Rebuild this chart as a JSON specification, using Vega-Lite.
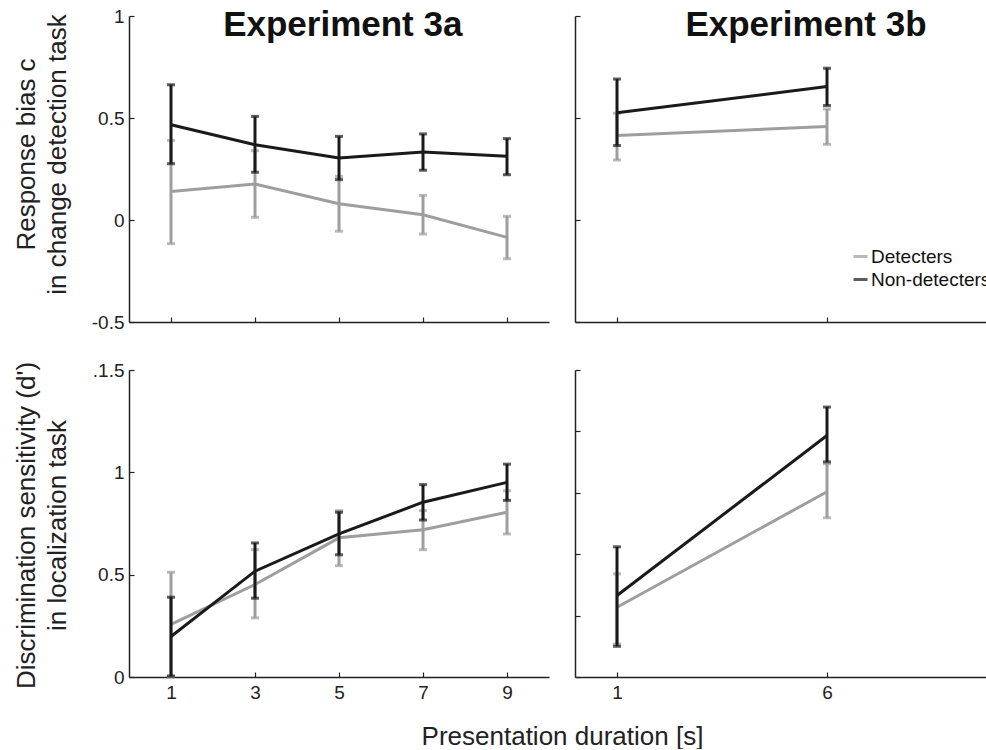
{
  "$schema": "https://vega.github.io/schema/vega-lite/v6.json",
  "padding": {"left": 12, "top": 7, "right": 0, "bottom": 0},
  "background": "white",
  "bounds": "flush",
  "columns": 2,
  "spacing": {"row": 48, "column": 26},
  "resolve": {"legend": {"color": "independent"}},
  "datasets": {
    "pts": [
      {"panel": "TL", "group": "Detecters", "x": 1, "y": 0.14, "lo": -0.116, "hi": 0.39},
      {"panel": "TL", "group": "Detecters", "x": 3, "y": 0.176, "lo": 0.013, "hi": 0.34},
      {"panel": "TL", "group": "Detecters", "x": 5, "y": 0.08, "lo": -0.055, "hi": 0.214},
      {"panel": "TL", "group": "Detecters", "x": 7, "y": 0.026, "lo": -0.069, "hi": 0.121},
      {"panel": "TL", "group": "Detecters", "x": 9, "y": -0.085, "lo": -0.19, "hi": 0.018},
      {"panel": "TL", "group": "Non-detecters", "x": 1, "y": 0.467, "lo": 0.276, "hi": 0.663},
      {"panel": "TL", "group": "Non-detecters", "x": 3, "y": 0.369, "lo": 0.234, "hi": 0.508},
      {"panel": "TL", "group": "Non-detecters", "x": 5, "y": 0.304, "lo": 0.198, "hi": 0.41},
      {"panel": "TL", "group": "Non-detecters", "x": 7, "y": 0.333, "lo": 0.244, "hi": 0.422},
      {"panel": "TL", "group": "Non-detecters", "x": 9, "y": 0.312, "lo": 0.222, "hi": 0.399},
      {"panel": "TR", "group": "Detecters", "x": 1, "y": 0.414, "lo": 0.294, "hi": 0.523},
      {"panel": "TR", "group": "Detecters", "x": 6, "y": 0.458, "lo": 0.371, "hi": 0.544},
      {"panel": "TR", "group": "Non-detecters", "x": 1, "y": 0.526, "lo": 0.365, "hi": 0.691},
      {"panel": "TR", "group": "Non-detecters", "x": 6, "y": 0.654, "lo": 0.561, "hi": 0.744},
      {"panel": "BL", "group": "Detecters", "x": 1, "y": 0.257, "lo": 0.0, "hi": 0.512},
      {"panel": "BL", "group": "Detecters", "x": 3, "y": 0.452, "lo": 0.289, "hi": 0.622},
      {"panel": "BL", "group": "Detecters", "x": 5, "y": 0.68, "lo": 0.544, "hi": 0.813},
      {"panel": "BL", "group": "Detecters", "x": 7, "y": 0.72, "lo": 0.622, "hi": 0.813},
      {"panel": "BL", "group": "Detecters", "x": 9, "y": 0.805, "lo": 0.699, "hi": 0.91},
      {"panel": "BL", "group": "Non-detecters", "x": 1, "y": 0.198, "lo": 0.005, "hi": 0.39},
      {"panel": "BL", "group": "Non-detecters", "x": 3, "y": 0.517, "lo": 0.385, "hi": 0.655},
      {"panel": "BL", "group": "Non-detecters", "x": 5, "y": 0.699, "lo": 0.597, "hi": 0.805},
      {"panel": "BL", "group": "Non-detecters", "x": 7, "y": 0.854, "lo": 0.767, "hi": 0.94},
      {"panel": "BL", "group": "Non-detecters", "x": 9, "y": 0.951, "lo": 0.863, "hi": 1.04},
      {"panel": "BR", "group": "Detecters", "x": 1, "y": 0.341, "lo": 0.161, "hi": 0.504},
      {"panel": "BR", "group": "Detecters", "x": 6, "y": 0.905, "lo": 0.778, "hi": 1.042},
      {"panel": "BR", "group": "Non-detecters", "x": 1, "y": 0.398, "lo": 0.15, "hi": 0.636},
      {"panel": "BR", "group": "Non-detecters", "x": 6, "y": 1.18, "lo": 1.051, "hi": 1.319}
    ]
  },
  "concat": [
    {
      "width": 420, "height": 306,
      "data": {"name": "pts"},
      "encoding": {
        "x": {"field": "x", "type": "quantitative", "scale": {"domain": [0, 10], "nice": false},
              "axis": {"values": [1, 3, 5, 7, 9], "labels": false, "title": null}},
        "color": {"field": "group", "type": "nominal",
                  "scale": {"domain": ["Detecters", "Non-detecters"], "range": ["#9e9e9e", "#1a1a1a"]}, "legend": null}
      },
      "layer": [
        {"transform": [{"filter": "datum.panel == 'TL' && datum.group == 'Detecters'"}],
         "layer": [
          {"mark": {"type": "line", "strokeWidth": 3},
           "encoding": {"y": {"field": "y", "type": "quantitative", "scale": {"domain": [-0.5, 1], "nice": false},
             "axis": {"values": [-0.5, 0, 0.5, 1], "labelExpr": "datum.value == -0.5 ? '-0.5' : format(datum.value, '~g')", "labelPadding": 10,
                      "title": ["Response bias c", "in change detection task"], "titleX": -90, "titleY": 138, "titleLineHeight": 31}}}},
          {"mark": {"type": "rule", "strokeWidth": 3}, "encoding": {"y": {"field": "lo", "type": "quantitative"}, "y2": {"field": "hi"}}},
          {"mark": {"type": "tick", "orient": "horizontal", "size": 8, "thickness": 3}, "encoding": {"y": {"field": "lo", "type": "quantitative"}}},
          {"mark": {"type": "tick", "orient": "horizontal", "size": 8, "thickness": 3}, "encoding": {"y": {"field": "hi", "type": "quantitative"}}},
          {"transform": [{"filter": "datum.x == 1"}],
           "mark": {"type": "text", "fontSize": 35, "fontWeight": "bold", "font": "Liberation Sans", "align": "center", "baseline": "alphabetic"},
           "encoding": {"text": {"value": "Experiment 3a"}, "x": {"datum": 5.09, "type": "quantitative"}, "y": {"datum": 0.902, "type": "quantitative"}, "color": {"value": "#111111"}}}
         ]},
        {"transform": [{"filter": "datum.panel == 'TL' && datum.group == 'Non-detecters'"}],
         "layer": [
          {"mark": {"type": "line", "strokeWidth": 3}, "encoding": {"y": {"field": "y", "type": "quantitative"}}},
          {"mark": {"type": "rule", "strokeWidth": 3}, "encoding": {"y": {"field": "lo", "type": "quantitative"}, "y2": {"field": "hi"}}},
          {"mark": {"type": "tick", "orient": "horizontal", "size": 8, "thickness": 3}, "encoding": {"y": {"field": "lo", "type": "quantitative"}}},
          {"mark": {"type": "tick", "orient": "horizontal", "size": 8, "thickness": 3}, "encoding": {"y": {"field": "hi", "type": "quantitative"}}}
         ]}
      ]
    },
    {
      "width": 420, "height": 306,
      "data": {"name": "pts"},
      "encoding": {
        "x": {"field": "x", "type": "quantitative", "scale": {"domain": [0, 10], "nice": false},
              "axis": {"values": [1, 6], "labels": false, "title": null}},
        "color": {"field": "group", "type": "nominal", "title": null,
                  "scale": {"domain": ["Detecters", "Non-detecters"], "range": ["#9e9e9e", "#1a1a1a"]},
                  "legend": {"orient": "none", "legendX": 276, "legendY": 231, "symbolType": "stroke", "symbolSize": 196, "symbolStrokeWidth": 3,
                             "labelFontSize": 19, "labelFont": "Liberation Sans", "labelColor": "#111111", "labelOffset": 1, "rowPadding": 3, "padding": 0, "symbolOffset": 0}}
      },
      "layer": [
        {"transform": [{"filter": "datum.panel == 'TR' && datum.group == 'Detecters'"}],
         "layer": [
          {"mark": {"type": "line", "strokeWidth": 3},
           "encoding": {"y": {"field": "y", "type": "quantitative", "scale": {"domain": [-0.5, 1], "nice": false},
             "axis": {"values": [-0.5, 0, 0.5, 1], "labels": false, "title": null}}}},
          {"mark": {"type": "rule", "strokeWidth": 3}, "encoding": {"y": {"field": "lo", "type": "quantitative"}, "y2": {"field": "hi"}}},
          {"mark": {"type": "tick", "orient": "horizontal", "size": 8, "thickness": 3}, "encoding": {"y": {"field": "lo", "type": "quantitative"}}},
          {"mark": {"type": "tick", "orient": "horizontal", "size": 8, "thickness": 3}, "encoding": {"y": {"field": "hi", "type": "quantitative"}}},
          {"transform": [{"filter": "datum.x == 1"}],
           "mark": {"type": "text", "fontSize": 35, "fontWeight": "bold", "font": "Liberation Sans", "align": "center", "baseline": "alphabetic"},
           "encoding": {"text": {"value": "Experiment 3b"}, "x": {"datum": 5.5, "type": "quantitative"}, "y": {"datum": 0.902, "type": "quantitative"}, "color": {"value": "#111111"}}}
         ]},
        {"transform": [{"filter": "datum.panel == 'TR' && datum.group == 'Non-detecters'"}],
         "layer": [
          {"mark": {"type": "line", "strokeWidth": 3}, "encoding": {"y": {"field": "y", "type": "quantitative"}}},
          {"mark": {"type": "rule", "strokeWidth": 3}, "encoding": {"y": {"field": "lo", "type": "quantitative"}, "y2": {"field": "hi"}}},
          {"mark": {"type": "tick", "orient": "horizontal", "size": 8, "thickness": 3}, "encoding": {"y": {"field": "lo", "type": "quantitative"}}},
          {"mark": {"type": "tick", "orient": "horizontal", "size": 8, "thickness": 3}, "encoding": {"y": {"field": "hi", "type": "quantitative"}}}
         ]}
      ]
    },
    {
      "width": 420, "height": 307,
      "data": {"name": "pts"},
      "encoding": {
        "x": {"field": "x", "type": "quantitative", "scale": {"domain": [0, 10], "nice": false},
              "axis": {"values": [1, 3, 5, 7, 9], "labelPadding": 11, "title": "Presentation duration [s]", "titleX": 433, "titleY": 67, "titleBaseline": "alphabetic"}},
        "color": {"field": "group", "type": "nominal",
                  "scale": {"domain": ["Detecters", "Non-detecters"], "range": ["#9e9e9e", "#1a1a1a"]}, "legend": null}
      },
      "layer": [
        {"transform": [{"filter": "datum.panel == 'BL' && datum.group == 'Detecters'"}],
         "layer": [
          {"mark": {"type": "line", "strokeWidth": 3},
           "encoding": {"y": {"field": "y", "type": "quantitative", "scale": {"domain": [0, 1.5], "nice": false},
             "axis": {"values": [0, 0.5, 1, 1.5], "labelExpr": "datum.value == 1.5 ? '.1.5' : format(datum.value, '~g')", "labelPadding": 10,
                      "title": ["Discrimination sensitivity (d')", "in localization task"], "titleX": -90, "titleY": 155, "titleLineHeight": 31}}}},
          {"mark": {"type": "rule", "strokeWidth": 3}, "encoding": {"y": {"field": "lo", "type": "quantitative"}, "y2": {"field": "hi"}}},
          {"mark": {"type": "tick", "orient": "horizontal", "size": 8, "thickness": 3}, "encoding": {"y": {"field": "lo", "type": "quantitative"}}},
          {"mark": {"type": "tick", "orient": "horizontal", "size": 8, "thickness": 3}, "encoding": {"y": {"field": "hi", "type": "quantitative"}}}
         ]},
        {"transform": [{"filter": "datum.panel == 'BL' && datum.group == 'Non-detecters'"}],
         "layer": [
          {"mark": {"type": "line", "strokeWidth": 3}, "encoding": {"y": {"field": "y", "type": "quantitative"}}},
          {"mark": {"type": "rule", "strokeWidth": 3}, "encoding": {"y": {"field": "lo", "type": "quantitative"}, "y2": {"field": "hi"}}},
          {"mark": {"type": "tick", "orient": "horizontal", "size": 8, "thickness": 3}, "encoding": {"y": {"field": "lo", "type": "quantitative"}}},
          {"mark": {"type": "tick", "orient": "horizontal", "size": 8, "thickness": 3}, "encoding": {"y": {"field": "hi", "type": "quantitative"}}}
         ]}
      ]
    },
    {
      "width": 420, "height": 307,
      "data": {"name": "pts"},
      "encoding": {
        "x": {"field": "x", "type": "quantitative", "scale": {"domain": [0, 10], "nice": false},
              "axis": {"values": [1, 6], "labelPadding": 11, "title": null}},
        "color": {"field": "group", "type": "nominal",
                  "scale": {"domain": ["Detecters", "Non-detecters"], "range": ["#9e9e9e", "#1a1a1a"]}, "legend": null}
      },
      "layer": [
        {"transform": [{"filter": "datum.panel == 'BR' && datum.group == 'Detecters'"}],
         "layer": [
          {"mark": {"type": "line", "strokeWidth": 3},
           "encoding": {"y": {"field": "y", "type": "quantitative", "scale": {"domain": [0, 1.5], "nice": false},
             "axis": {"values": [0, 0.3, 0.6, 0.9, 1.2, 1.5], "labels": false, "title": null}}}},
          {"mark": {"type": "rule", "strokeWidth": 3}, "encoding": {"y": {"field": "lo", "type": "quantitative"}, "y2": {"field": "hi"}}},
          {"mark": {"type": "tick", "orient": "horizontal", "size": 8, "thickness": 3}, "encoding": {"y": {"field": "lo", "type": "quantitative"}}},
          {"mark": {"type": "tick", "orient": "horizontal", "size": 8, "thickness": 3}, "encoding": {"y": {"field": "hi", "type": "quantitative"}}}
         ]},
        {"transform": [{"filter": "datum.panel == 'BR' && datum.group == 'Non-detecters'"}],
         "layer": [
          {"mark": {"type": "line", "strokeWidth": 3}, "encoding": {"y": {"field": "y", "type": "quantitative"}}},
          {"mark": {"type": "rule", "strokeWidth": 3}, "encoding": {"y": {"field": "lo", "type": "quantitative"}, "y2": {"field": "hi"}}},
          {"mark": {"type": "tick", "orient": "horizontal", "size": 8, "thickness": 3}, "encoding": {"y": {"field": "lo", "type": "quantitative"}}},
          {"mark": {"type": "tick", "orient": "horizontal", "size": 8, "thickness": 3}, "encoding": {"y": {"field": "hi", "type": "quantitative"}}}
         ]}
      ]
    }
  ],
  "config": {
    "font": "Liberation Sans",
    "view": {"stroke": null},
    "axis": {"grid": false, "domainColor": "#222222", "domainWidth": 1.5, "tickColor": "#222222", "tickWidth": 1.2, "tickSize": -5,
             "labelFont": "Liberation Sans", "labelFontSize": 19, "labelColor": "#222222",
             "titleFont": "Liberation Sans", "titleFontSize": 26, "titleFontWeight": "normal", "titleColor": "#222222", "titleLineHeight": 31}
  }
}
